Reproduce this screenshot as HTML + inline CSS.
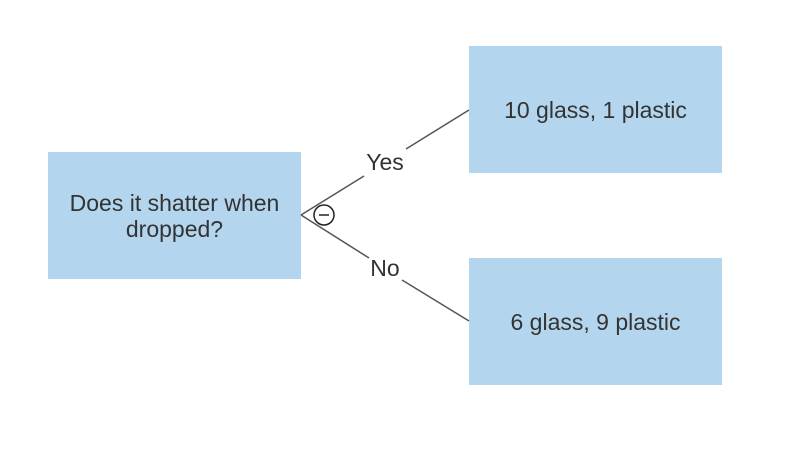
<!DOCTYPE html>
<html><head><style>
body{margin:0;width:808px;height:452px;background:#fff;overflow:hidden;font-family:"Liberation Sans",sans-serif}
.b{position:absolute;background:#b3d6ee;display:flex;align-items:center;justify-content:center;text-align:center;color:#333;font-size:23px;line-height:26px}
svg{position:absolute;left:0;top:0}
</style></head><body>
<div class="b" style="left:48px;top:152px;width:253px;height:127px">Does it shatter when<br>dropped?</div>
<div class="b" style="left:469px;top:46px;width:253px;height:127px">10 glass, 1 plastic</div>
<div class="b" style="left:469px;top:258px;width:253px;height:127px">6 glass, 9 plastic</div>
<svg width="808" height="452">
<line x1="301" y1="215" x2="364" y2="176" stroke="#555" stroke-width="1.5"/>
<line x1="406" y1="149" x2="469" y2="110" stroke="#555" stroke-width="1.5"/>
<line x1="301" y1="215" x2="369" y2="258" stroke="#555" stroke-width="1.5"/>
<line x1="402" y1="280" x2="469" y2="321" stroke="#555" stroke-width="1.5"/>
<text x="385" y="170" font-size="23" fill="#333" text-anchor="middle" font-family="Liberation Sans">Yes</text>
<text x="385" y="276" font-size="23" fill="#333" text-anchor="middle" font-family="Liberation Sans">No</text>
<circle cx="324" cy="215" r="10" fill="#fff" stroke="#222" stroke-width="1.5"/>
<line x1="319" y1="215" x2="329" y2="215" stroke="#222" stroke-width="1.5"/>
</svg>
</body></html>
